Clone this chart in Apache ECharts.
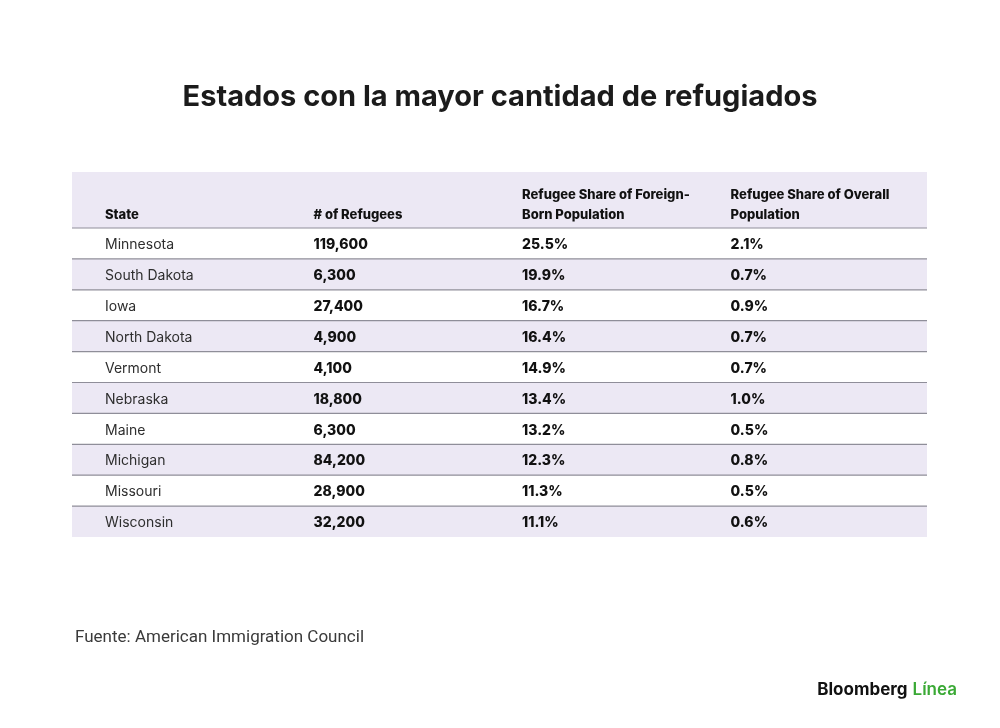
<!DOCTYPE html>
<html>
<head>
<meta charset="utf-8">
<script src="https://cdn.jsdelivr.net/npm/echarts@6/dist/echarts.min.js"></script>
<style>
html,body{margin:0;padding:0;background:#fff;}
#chart{width:1000px;height:728px;}
</style>
</head>
<body>
<div id="chart"></div>
<script>
var headers = ['State', '# of Refugees', 'Refugee Share of Foreign-\nBorn Population', 'Refugee Share of Overall\nPopulation'];
var states = ['Minnesota', 'South Dakota', 'Iowa', 'North Dakota', 'Vermont', 'Nebraska', 'Maine', 'Michigan', 'Missouri', 'Wisconsin'];
var refugees = [119600, 6300, 27400, 4900, 4100, 18800, 6300, 84200, 28900, 32200];
var shareForeign = [25.5, 19.9, 16.7, 16.4, 14.9, 13.4, 13.2, 12.3, 11.3, 11.1];
var shareOverall = [2.1, 0.7, 0.9, 0.7, 0.7, 1.0, 0.5, 0.8, 0.5, 0.6];

var FONT = 'Inter, "Noto Sans", sans-serif';
var SHADE = '#ece8f4';
var LINE = '#8f8e99';
var PAD = 33;
var HEADER_H = 56;

function cellTexts(i) {
  return [
    states[i],
    refugees[i].toLocaleString('en-US'),
    shareForeign[i].toFixed(1) + '%',
    shareOverall[i].toFixed(1) + '%'
  ];
}

var chart = echarts.init(document.getElementById('chart'), null, {renderer: 'canvas'});

var option = {
  backgroundColor: '#ffffff',
  animation: false,
  title: [{
    text: 'Estados con la mayor cantidad de refugiados',
    left: 'center',
    top: 78,
    textStyle: {fontFamily: FONT, fontSize: 29, fontWeight: 700, color: '#1b1b1b'}
  }, {
    text: 'Fuente: American Immigration Council',
    left: 70,
    top: 624,
    textStyle: {fontFamily: '"Liberation Sans Narrow", Roboto, sans-serif', fontSize: 17, fontWeight: 400, color: '#3a3a3a'}
  }, {
    text: '{a|Bloomberg} {b|Línea}',
    right: 38,
    top: 676,
    textStyle: {
      rich: {
        a: {fontFamily: FONT, fontSize: 17, fontWeight: 700, color: '#111111'},
        b: {fontFamily: FONT, fontSize: 17, fontWeight: 600, color: '#3aa935'}
      }
    }
  }],
  grid: {left: 72, right: 73, top: 228, bottom: 191},
  xAxis: {type: 'value', min: 0, max: 4.1, show: false},
  yAxis: {type: 'category', data: states, inverse: true, show: false},
  series: [{
    type: 'custom',
    clip: false,
    z: 1,
    data: [[0, 0]],
    renderItem: function (params, api) {
      var p0 = api.coord([0, 0]);
      var p1 = api.coord([4.1, 0]);
      var h = api.size([0, 1])[1];
      var bottom = p0[1] - h / 2;
      var children = [{type: 'rect', shape: {x: p0[0], y: bottom - HEADER_H, width: p1[0] - p0[0], height: HEADER_H}, style: {fill: SHADE}}];
      for (var c = 0; c < 4; c++) {
        var pc = api.coord([c, 0]);
        children.push({
          type: 'text',
          style: {
            text: headers[c], x: pc[0] + PAD, y: bottom - 3,
            textAlign: 'left', textVerticalAlign: 'bottom',
            font: '800 13px ' + FONT, lineHeight: 20,
            fill: '#111111'
          }
        });
      }
      return {type: 'group', children: children};
    }
  }, {
    type: 'custom',
    clip: false,
    z: 2,
    data: states.map(function (s, i) { return [0, i]; }),
    renderItem: function (params, api) {
      var i = api.value(1);
      var p0 = api.coord([0, i]);
      var p1 = api.coord([4.1, i]);
      var h = api.size([0, 1])[1];
      var top = p0[1] - h / 2;
      var children = [];
      if (i % 2 === 1) {
        children.push({type: 'rect', shape: {x: p0[0], y: top, width: p1[0] - p0[0], height: h}, style: {fill: SHADE}});
      }
      children.push({type: 'line', z2: 10, shape: {x1: p0[0], y1: top, x2: p1[0], y2: top}, style: {stroke: LINE, lineWidth: 1.2}});
      var texts = cellTexts(i);
      for (var c = 0; c < 4; c++) {
        var pc = api.coord([c, i]);
        children.push({
          type: 'text',
          style: {
            text: texts[c], x: pc[0] + PAD, y: pc[1] + 1.5,
            textAlign: 'left', textVerticalAlign: 'middle',
            font: (c === 0 ? '400 14px ' : '800 14px ') + FONT,
            fill: c === 0 ? '#2e2e2e' : '#111111'
          }
        });
      }
      return {type: 'group', children: children};
    }
  }]
};
chart.setOption(option);
</script>
</body>
</html>
